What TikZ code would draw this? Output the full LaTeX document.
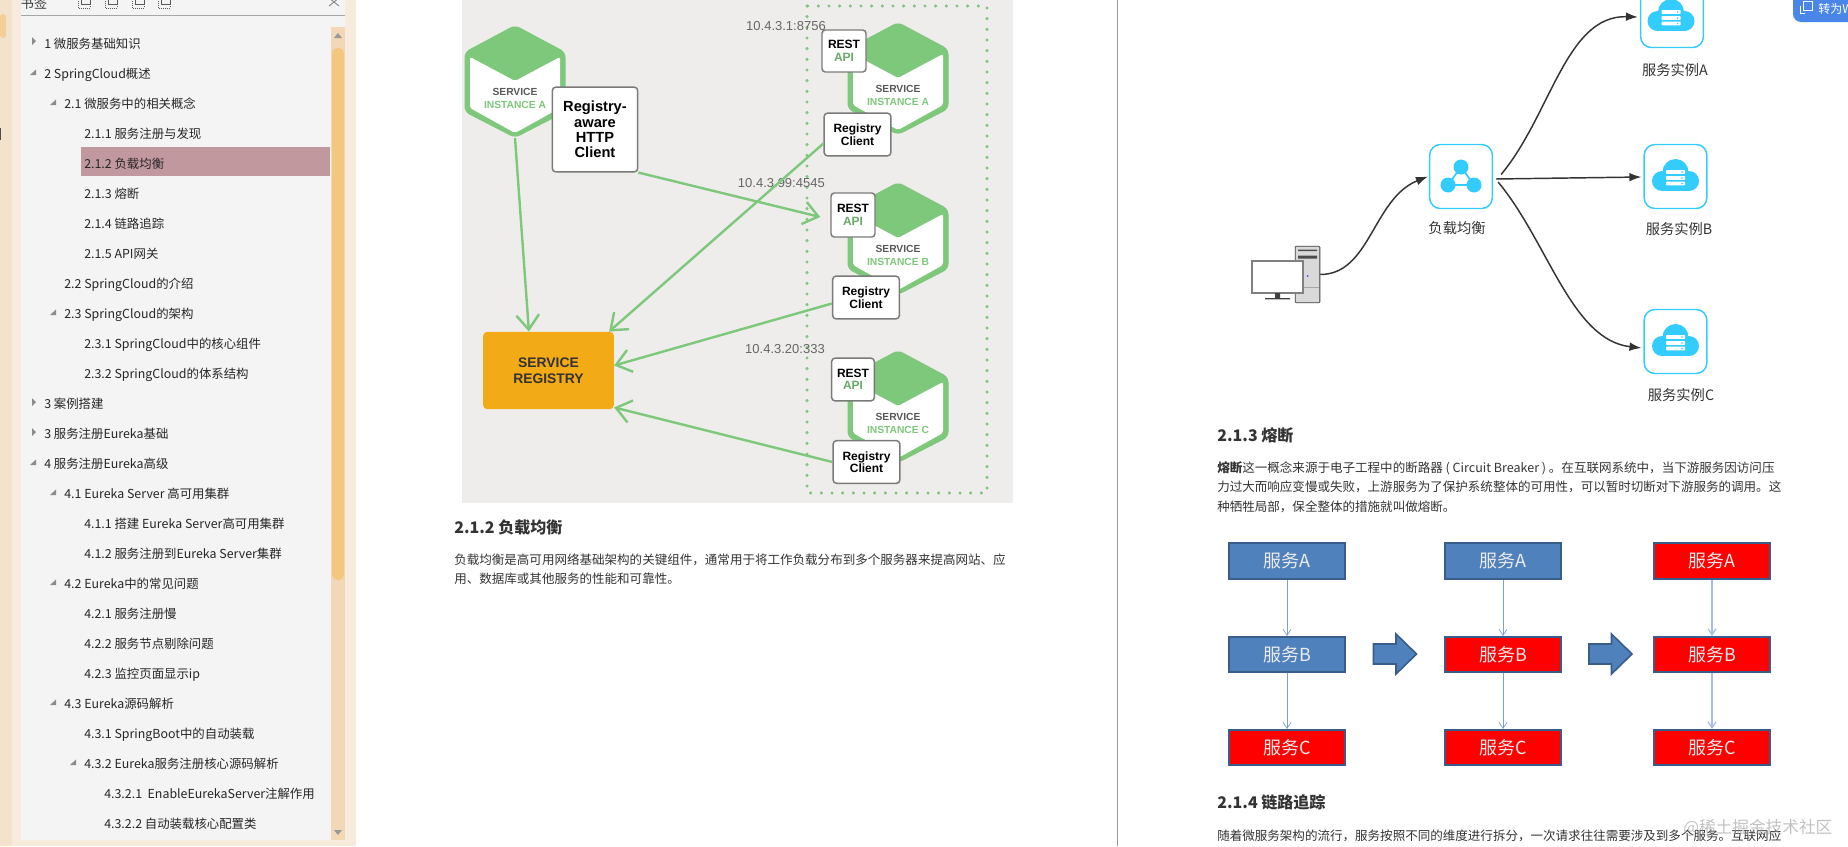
\documentclass[tikz,border=0pt]{standalone}
\usepackage{fontspec}
\usepackage{xcolor}
\usepackage{tikz}
\usetikzlibrary{arrows.meta,calc,positioning}
\setmainfont{Noto Sans CJK SC}
\newfontfamily\arialfont{Liberation Sans}
\definecolor{panelgray}{HTML}{F4F4F4}
\definecolor{sidebeige}{HTML}{F4E3CC}
\definecolor{sidelight}{HTML}{F6EBDC}
\definecolor{trackbeige}{HTML}{F2D8B7}
\definecolor{thumborange}{HTML}{F3C780}
\definecolor{rowpink}{HTML}{C2989F}
\definecolor{figbg}{HTML}{EEEDEB}
\definecolor{hexgreen}{HTML}{7DC87A}
\definecolor{boxgray}{HTML}{7A7A7A}
\definecolor{regorange}{HTML}{F2AB17}
\definecolor{bodytext}{HTML}{333333}
\definecolor{iconcyan}{HTML}{33CCFF}
\definecolor{svcblue}{HTML}{4F81BD}
\definecolor{svcedge}{HTML}{385D8A}
\definecolor{svcred}{HTML}{FF0000}
\definecolor{flowline}{HTML}{7A9FD4}
\definecolor{flowlight}{HTML}{A7C0E0}
\definecolor{badgeblue}{HTML}{4A86E8}

\tikzset{
  tocrow/.style={anchor=west,inner sep=0pt,text height=9.5pt,text depth=2.5pt,text=black!85,font=\fontsize{9.3}{11}\selectfont},
  headrow/.style={anchor=west,inner sep=0pt,text height=10pt,text depth=2.5pt,text=bodytext,font=\fontsize{12}{14}\selectfont\bfseries},
  bodyrow/.style={anchor=west,inner sep=0pt,text height=8pt,text depth=2pt,text=bodytext,font=\fontsize{9.4}{11}\selectfont},
  iplabel/.style={inner sep=0pt,text=black!60,font=\arialfont\fontsize{9.75}{11}\selectfont},
  whitebox/.style={draw=boxgray,fill=white,line width=1.1pt,rounded corners=2.5pt,inner sep=0pt,align=center,font=\arialfont\bfseries\fontsize{9}{9.4}\selectfont},
  reglink/.style={draw=hexgreen,line width=1.8pt,-{Straight Barb[length=11pt,width=17pt]}},
  iconbox/.style={draw=iconcyan,fill=white,line width=1.1pt,rounded corners=8pt,minimum width=47pt,minimum height=48pt,inner sep=0pt},
  curvelink/.style={draw=black!80,line width=1.1pt,-{Latex[length=9pt,width=6.5pt]}},
  svcbox/.style={draw=svcedge,line width=1.3pt,minimum width=87pt,minimum height=26.5pt,inner sep=0pt,text=white!92!black,font=\fontsize{13.5}{15}\selectfont},
  flowlink/.style={-{Straight Barb[length=4.5pt,width=6pt]}},
  blockarrow/.style={draw=svcedge,fill=svcblue,line width=1.2pt},
  imagelabel/.style={inner sep=0pt,text=bodytext,font=\fontsize{10.7}{12}\selectfont}
}

% hexagon of one service instance: name, centre x, top y, letter
\newcommand{\hexinstance}[4]{
  \begin{scope}[shift={(#2,#3)}]
    \fill[hexgreen,rounded corners=4pt] (0,0) -- (50.5,27) -- (50.5,87) -- (0,113) -- (-50.5,87) -- (-50.5,27) -- cycle;
    \fill[white,rounded corners=1.5pt] (-45,32) -- (0,56) -- (45,32) -- (45,83) -- (0,108) -- (-45,83) -- cycle;
    \node (#1name) [inner sep=0pt,text=black!65,font=\arialfont\bfseries\fontsize{7.7}{8}\selectfont] at (0,67) {SERVICE};
    \node (#1inst) [inner sep=0pt,text=hexgreen,font=\arialfont\bfseries\fontsize{7.7}{8}\selectfont] at (0,80) {INSTANCE #4};
    \coordinate (#1bot) at (0,113);
  \end{scope}
}
% cloud with the three server bars
\newcommand{\cloudicon}[2]{
  \begin{scope}[shift={(#1,#2)}]
    \fill[iconcyan] (-13.5,6) circle (10);
    \fill[iconcyan] (13.5,6) circle (10);
    \fill[iconcyan] (0,-3) circle (13);
    \fill[iconcyan] (-13.5,4) rectangle (13.5,16);
    \foreach \yy in {-3,3,8.5} {
      \fill[white,rounded corners=0.5pt] (-9.5,\yy-1.9) rectangle (9.5,\yy+1.9);
      \fill[iconcyan] (6.5,\yy) circle (0.9);
    }
  \end{scope}
}

\begin{document}
\begin{tikzpicture}[x=0.75pt,y=0.75pt,yscale=-1,xscale=1]
\useasboundingbox (0,0) rectangle (1848,846);

% side panel
\fill[sidebeige] (0,0) rectangle (12,846);
\fill[sidelight] (12,0) rectangle (356,846);
\fill[panelgray] (21,0) rectangle (345,840);
\fill[trackbeige] (331,27) rectangle (345,840);
\fill[thumborange,rounded corners=4pt] (332,48) rectangle (344,580);
\fill[thumborange!70!sidebeige,rounded corners=2pt] (0,14) rectangle (6,38);
\fill[black!70] (0,128) rectangle (1.2,140);
\fill[black!40] (338,33) -- (342,38) -- (334,38) -- cycle;
\fill[black!40] (338,835) -- (342,830) -- (334,830) -- cycle;
\draw[black!35,line width=0.75pt] (21,15) -- (345,15);
\node (tochead) [inner sep=0pt,text=black!80,font=\fontsize{9.8}{11}\selectfont] at (34,3) {书签};
\foreach \ix in {78,105,132,158} {
  \draw[black!65,line width=0.5pt,densely dotted] (\ix,-3) rectangle (\ix+12,8);
  \draw[black!65,line width=0.5pt] (\ix+3,-3) rectangle (\ix+12,4);
}
\draw[black!50,line width=0.6pt] (329,-2) -- (339,6) (339,-2) -- (329,6);
\fill[rowpink] (81,147) rectangle (330,176);

\foreach \tx/\yy/\txt in {
  44/42/1 微服务基础知识,44/72/2 SpringCloud概述,64/102/2.1 微服务中的相关概念,
  84/132/2.1.1 服务注册与发现,84/162/2.1.2 负载均衡,84/192/2.1.3 熔断,84/222/2.1.4 链路追踪,
  84/252/2.1.5 API网关,64/282/2.2 SpringCloud的介绍,64/312/2.3 SpringCloud的架构,
  84/342/2.3.1 SpringCloud中的核心组件,84/372/2.3.2 SpringCloud的体系结构,44/402/3 案例搭建,
  44/432/3 服务注册Eureka基础,44/462/4 服务注册Eureka高级,64/492/4.1 Eureka Server 高可用集群,
  84/522/4.1.1 搭建 Eureka Server高可用集群,84/552/4.1.2 服务注册到Eureka Server集群,
  64/582/4.2 Eureka中的常见问题,84/612/4.2.1 服务注册慢,84/642/4.2.2 服务节点剔除问题,
  84/672/4.2.3 监控页面显示ip,64/702/4.3 Eureka源码解析,84/732/4.3.1 SpringBoot中的自动装载,
  84/762/4.3.2 Eureka服务注册核心源码解析,104/792/4.3.2.1\ \ EnableEurekaServer注解作用,
  104/822/4.3.2.2 自动装载核心配置类} {
  \node (toc\yy) [tocrow] at (\tx,\yy+1.5) {\txt};
}
% open and closed markers
\foreach \yy in {41,402,432} {
  \fill[black!45] (32,\yy-4) -- (36,\yy) -- (32,\yy+4) -- cycle;
}
\foreach \mx/\yy in {36/75,56/105,56/315,36/465,56/495,56/585,56/705,76/765} {
  \fill[black!45] (\mx,\yy-5.5) -- (\mx,\yy) -- (\mx-6,\yy) -- cycle;
}

% left page and right page
\draw[black!40,line width=0.75pt] (1117,0) -- (1117,846);
\fill[figbg] (462,0) rectangle (1013,503);
\draw[hexgreen,line width=2.6pt,line cap=round,dash pattern=on 0pt off 8pt] (807,6) rectangle (987,493);

\hexinstance{hexl}{515}{25}{A}
\hexinstance{hexa}{898}{22}{A}
\hexinstance{hexb}{898}{182}{B}
\hexinstance{hexc}{898}{350}{C}

\node (http) [whitebox,minimum width=64pt,minimum height=63.5pt,font=\arialfont\bfseries\fontsize{11}{11.6}\selectfont] at (595,129.5) {Registry-\\aware\\HTTP\\Client};
\node (resta) [whitebox,minimum width=33pt,minimum height=31.5pt] at (844,51) {REST\\\textcolor{hexgreen!85!black}{API}};
\node (restb) [whitebox,minimum width=33pt,minimum height=33pt] at (853,215) {REST\\\textcolor{hexgreen!85!black}{API}};
\node (restc) [whitebox,minimum width=32pt,minimum height=32pt] at (853,379.5) {REST\\\textcolor{hexgreen!85!black}{API}};
\node (clienta) [whitebox,minimum width=50pt,minimum height=32pt] at (857.5,134.5) {Registry\\Client};
\node (clientb) [whitebox,minimum width=50pt,minimum height=32pt] at (866,297.5) {Registry\\Client};
\node (clientc) [whitebox,minimum width=50pt,minimum height=32pt] at (866.5,462) {Registry\\Client};
\node (registry) [fill=regorange,rounded corners=3pt,minimum width=98pt,minimum height=58pt,inner sep=0pt,align=center,text=black!80,font=\arialfont\bfseries\fontsize{10.4}{12}\selectfont] at (548.5,370.5) {SERVICE\\REGISTRY};

\node (ipa) [iplabel,anchor=east] at (826,26) {10.4.3.1:8756};
\node (ipb) [iplabel,anchor=east] at (825,183) {10.4.3.99:4545};
\node (ipc) [iplabel,anchor=east] at (825,349) {10.4.3.20:333};

\draw[reglink] (hexlbot) -- ($(registry.north west)+(46,0)$);
\draw[reglink] ($(clienta.west)+(0,9)$) -- ($(registry.north east)+(-5,0)$);
\draw[reglink] ($(clientb.west)+(0,6)$) -- ($(registry.east)+(0,-5)$);
\draw[reglink] (clientc.west) -- ($(registry.south east)+(0,-2)$);
\draw[reglink] (http.south east) -- ($(restb.west)+(-10,2)$);

\node (head212) [headrow] at (454,528) {2.1.2 负载均衡};
\node (body212a) [bodyrow] at (454,560) {负载均衡是高可用网络基础架构的关键组件，通常用于将工作负载分布到多个服务器来提高网站、应};
\node (body212b) [bodyrow] at (454,579) {用、数据库或其他服务的性能和可靠性。};

% load balancing picture
\node (lb) [iconbox] at (1461,176.5) {};
\node (insta) [iconbox] at (1672,15.5) {};
\node (instb) [iconbox] at (1675.5,176.5) {};
\node (instc) [iconbox] at (1675.5,341.5) {};
\cloudicon{1671}{15}
\cloudicon{1675.5}{175}
\cloudicon{1675.5}{340}
\draw[iconcyan,line width=1.3pt] (1461,167) -- (1448,185) -- (1474,185) -- cycle;
\fill[iconcyan] (1461,167) circle (7.5) (1448,185) circle (7.5) (1474,185) circle (7.5);

\node (pc) [draw=black!75,fill=black!15,line width=0.6pt,rounded corners=0.8pt,minimum width=18.5pt,minimum height=42.5pt,inner sep=0pt] at (1307.5,274.5) {};
\fill[black!70] (1298,249.5) rectangle (1317,251) (1298,255.5) rectangle (1317,258.5);
\draw[black!35,line width=0.5pt] (1303,287) -- (1319,287);
\fill[blue!70!white] (1307.5,276) circle (1);
\draw[black!50,fill=white,line width=0.8pt] (1252,261) rectangle (1303,293);
\fill[black!75] (1275,293) rectangle (1280,298) (1265,298) rectangle (1290,299.3);

\node (lblb) [imagelabel] at (1457,228) {负载均衡};
\node (lbla) [imagelabel] at (1675,70) {服务实例A};
\node (lblbb) [imagelabel] at (1679,229) {服务实例B};
\node (lblc) [imagelabel] at (1681,395) {服务实例C};

\draw[curvelink] (pc.east) .. controls +(50,0) and +(-55,22) .. ($(lb.west)+(-1,0)$);
\draw[curvelink] ($(lb.east)+(8,-2)$) .. controls +(50,-60) and +(-72,-2) .. ($(insta.west)+(-2,1.5)$);
\draw[curvelink] ($(lb.east)+(3,2.5)$) -- ($(instb.west)+(-2,0.5)$);
\draw[curvelink] ($(lb.east)+(5,5.5)$) .. controls +(50,60) and +(-70,-8) .. ($(instc.west)+(-2,6.5)$);

% badge in the corner
\begin{scope}
  \clip (1780,0) rectangle (1848,40);
  \fill[badgeblue,rounded corners=6pt] (1793,-12) rectangle (1870,22);
  \draw[white,line width=0.7pt] (1803,1) rectangle (1812,10) (1800,6) -- (1800,13) -- (1805,13);
  \node (badgetxt) [anchor=west,inner sep=0pt,text=white,font=\fontsize{9}{10}\selectfont] at (1818,9) {转为W};
\end{scope}

\node (head213) [headrow] at (1217,436) {2.1.3 熔断};
\node (body213a) [bodyrow] at (1217,468) {\textbf{熔断}这一概念来源于电子工程中的断路器 ( Circuit Breaker ) 。在互联网系统中，当下游服务因访问压};
\node (body213b) [bodyrow] at (1217,487) {力过大而响应变慢或失败，上游服务为了保护系统整体的可用性，可以暂时切断对下游服务的调用。这};
\node (body213c) [bodyrow] at (1217,507) {种牺牲局部，保全整体的措施就叫做熔断。};

% fuse boxes, column by column
\foreach \cx/\cn/\fa/\fb/\lc/\lw in {1287/p/svcblue/svcblue/flowline/0.5pt,1503/q/svcblue/svcred/flowline/0.5pt,1712/r/svcred/svcred/flowlight/1pt} {
  \node (\cn a) [svcbox,fill=\fa] at (\cx,561) {服务A};
  \node (\cn b) [svcbox,fill=\fb] at (\cx,654.5) {服务B};
  \node (\cn c) [svcbox,fill=svcred] at (\cx,747.5) {服务C};
  \draw[flowlink,draw=\lc,line width=\lw] (\cn a) -- (\cn b);
  \draw[flowlink,draw=\lc,line width=\lw] (\cn b) -- (\cn c);
}
\foreach \ax in {1373.5,1589} {
  \draw[blockarrow] (\ax,644) -- ++(22.5,0) -- ++(0,-10) -- ++(20.5,20) -- ++(-20.5,20) -- ++(0,-10) -- ++(-22.5,0) -- cycle;
}

\node (head214) [headrow] at (1217,803) {2.1.4 链路追踪};
\node (body214a) [bodyrow] at (1217,836) {随着微服务架构的流行，服务按照不同的维度进行拆分，一次请求往往需要涉及到多个服务。互联网应};
\node (mark) [anchor=west,inner sep=0pt,text=black!40,opacity=0.6,font=\fontsize{12.5}{15}\selectfont] at (1683,828) {@稀土掘金技术社区};

\end{tikzpicture}
\end{document}
